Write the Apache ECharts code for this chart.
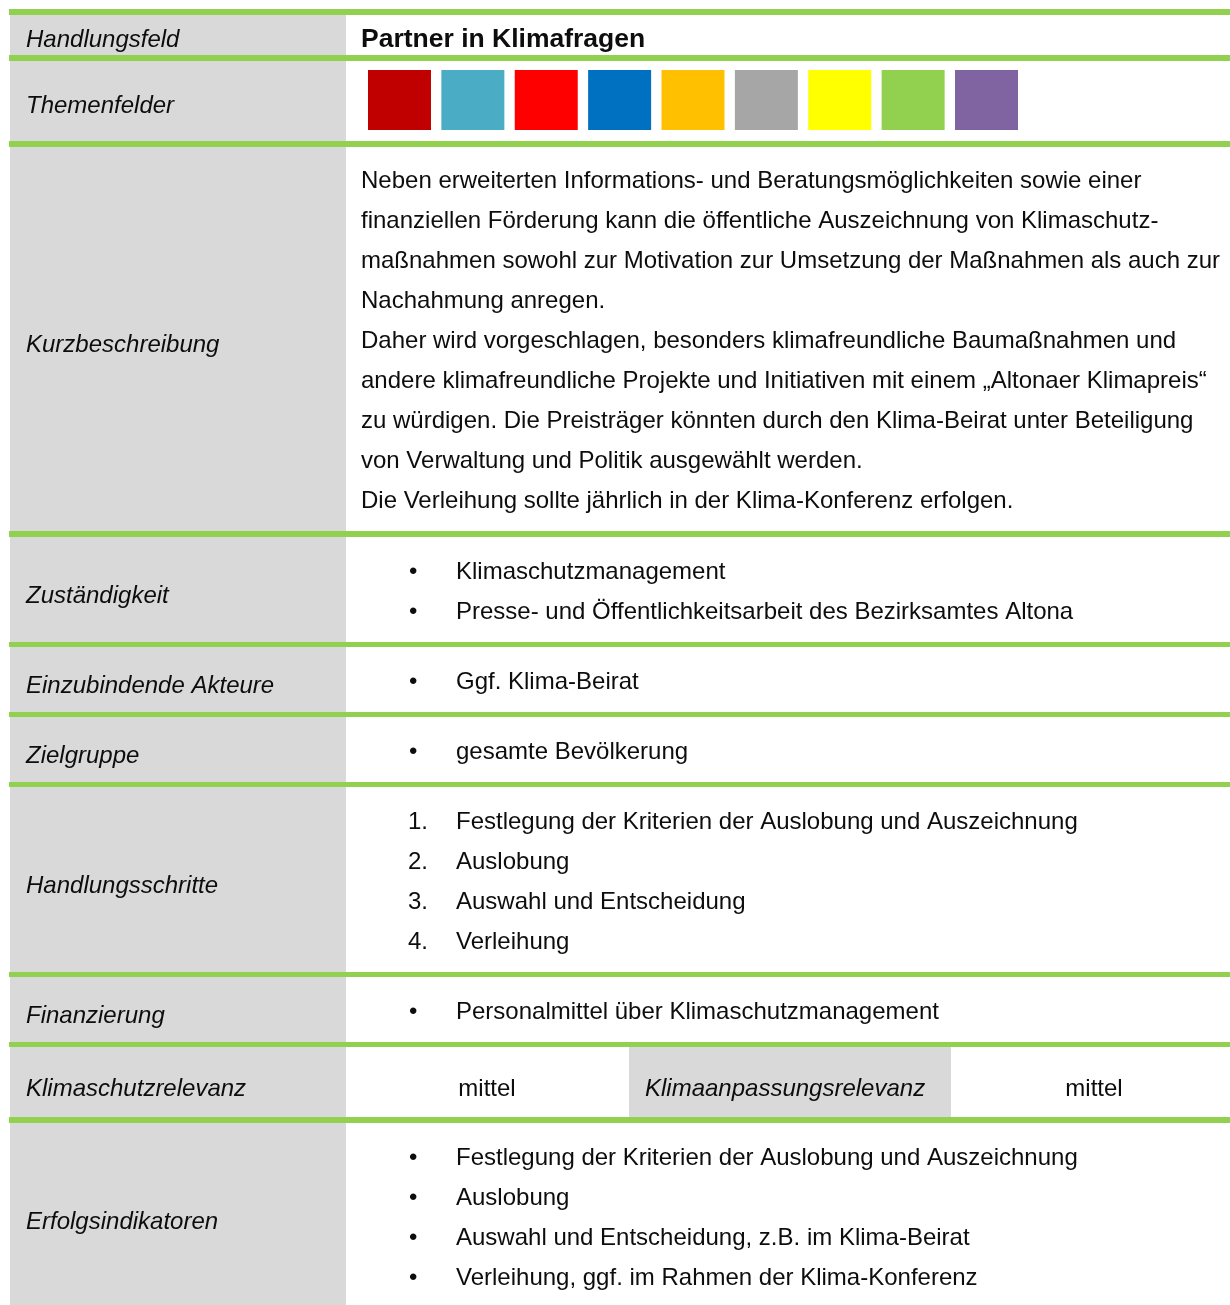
<!DOCTYPE html>
<html>
<head>
<meta charset="utf-8">
<script src="https://cdn.jsdelivr.net/npm/echarts@6/dist/echarts.min.js"></script>
<style>html,body{margin:0;padding:0;background:#fff}#c{width:1230px;height:1305px}</style>
</head>
<body>
<div id="c"></div>
<script>
// ---- data ----
const rowLabels = ['Handlungsfeld','Themenfelder','Kurzbeschreibung','Zuständigkeit','Einzubindende Akteure','Zielgruppe','Handlungsschritte','Finanzierung','Klimaschutzrelevanz','Erfolgsindikatoren'];
const title = 'Partner in Klimafragen';
const themeNames = ['T1','T2','T3','T4','T5','T6','T7','T8','T9'];
const themeValues = [1,1,1,1,1,1,1,1,1];
const themeColors = ['#C00000','#4BACC6','#FF0000','#0070C0','#FFC000','#A6A6A6','#FFFF00','#92D050','#8064A2'];
const descriptionLines = [
  'Neben erweiterten Informations- und Beratungsmöglichkeiten sowie einer',
  'finanziellen Förderung kann die öffentliche Auszeichnung von Klimaschutz-',
  'maßnahmen sowohl zur Motivation zur Umsetzung der Maßnahmen als auch zur',
  'Nachahmung anregen.',
  'Daher wird vorgeschlagen, besonders klimafreundliche Baumaßnahmen und',
  'andere klimafreundliche Projekte und Initiativen mit einem \u201EAltonaer Klimapreis\u201C',
  'zu würdigen. Die Preisträger könnten durch den Klima-Beirat unter Beteiligung',
  'von Verwaltung und Politik ausgewählt werden.',
  'Die Verleihung sollte jährlich in der Klima-Konferenz erfolgen.'
];
const responsibility = ['Klimaschutzmanagement','Presse- und Öffentlichkeitsarbeit des Bezirksamtes Altona'];
const actors = ['Ggf. Klima-Beirat'];
const targetGroup = ['gesamte Bevölkerung'];
const steps = ['Festlegung der Kriterien der Auslobung und Auszeichnung','Auslobung','Auswahl und Entscheidung','Verleihung'];
const financing = ['Personalmittel über Klimaschutzmanagement'];
const protectionRelevance = 'mittel';
const adaptationLabel = 'Klimaanpassungsrelevanz';
const adaptationRelevance = 'mittel';
const indicators = ['Festlegung der Kriterien der Auslobung und Auszeichnung','Auslobung','Auswahl und Entscheidung, z.B. im Klima-Beirat','Verleihung, ggf. im Rahmen der Klima-Konferenz'];

// ---- layout ----
const FONT = "'Liberation Sans', Arial, sans-serif";
const FS = 24;
const GREEN = '#92D050', GRAY = '#D9D9D9', INK = '#0d0d0d';
const sepLines = [[9,6],[55,6],[141,6],[531,6],[642,5],[712,5],[782,5],[972,5],[1042,5],[1117,6]];
const labelY = [40,106,345,596,686,756,886,1016,1089,1222];

const g = [];
g.push({type:'rect', shape:{x:10,y:15,width:336,height:1290}, style:{fill:GRAY}, silent:true});
g.push({type:'rect', shape:{x:629,y:1047,width:322,height:70}, style:{fill:GRAY}, silent:true});
sepLines.forEach(([y,h]) => g.push({type:'rect', shape:{x:9,y:y,width:1221,height:h}, style:{fill:GREEN}, silent:true}));

function txt(s, x, y, opt) {
  opt = opt || {};
  g.push({type:'text', x:x, y:y, silent:true, style:{
    text:s, fill:INK, fontFamily:FONT, fontSize:opt.fs||FS,
    fontStyle:opt.italic?'italic':'normal', fontWeight:opt.bold?'bold':'normal',
    align:opt.align||'left', verticalAlign:'middle',
    textAlign:opt.align||'left', textVerticalAlign:'middle'
  }});
}
rowLabels.forEach((l,i) => txt(l, 26, labelY[i], {italic:true}));
txt(title, 361, 40, {bold:true, fs:26.5});
descriptionLines.forEach((l,i) => txt(l, 361, 181 + i*40));
function bullets(items, y0) {
  items.forEach((it,i) => { txt('\u2022', 409, y0 + i*40); txt(it, 456, y0 + i*40); });
}
bullets(responsibility, 572);
bullets(actors, 682);
bullets(targetGroup, 752);
steps.forEach((it,i) => { txt((i+1)+'.', 408, 822 + i*40); txt(it, 456, 822 + i*40); });
bullets(financing, 1012);
txt(protectionRelevance, 487, 1089, {align:'center'});
txt(adaptationLabel, 645, 1089, {italic:true});
txt(adaptationRelevance, 1094, 1089, {align:'center'});
bullets(indicators, 1158);

const chart = echarts.init(document.getElementById('c'), null, {renderer:'canvas'});
chart.setOption({
  animation:false,
  backgroundColor:'#fff',
  grid:{left:362.8, width:660.4, top:70, height:60},
  xAxis:{type:'category', data:themeNames, show:false},
  yAxis:{type:'value', min:0, max:1, show:false},
  series:[{type:'bar', barWidth:63, silent:true,
    data: themeValues.map((v,i) => ({value:v, itemStyle:{color:themeColors[i]}}))}],
  graphic:{elements:g}
});
</script>
</body>
</html>
